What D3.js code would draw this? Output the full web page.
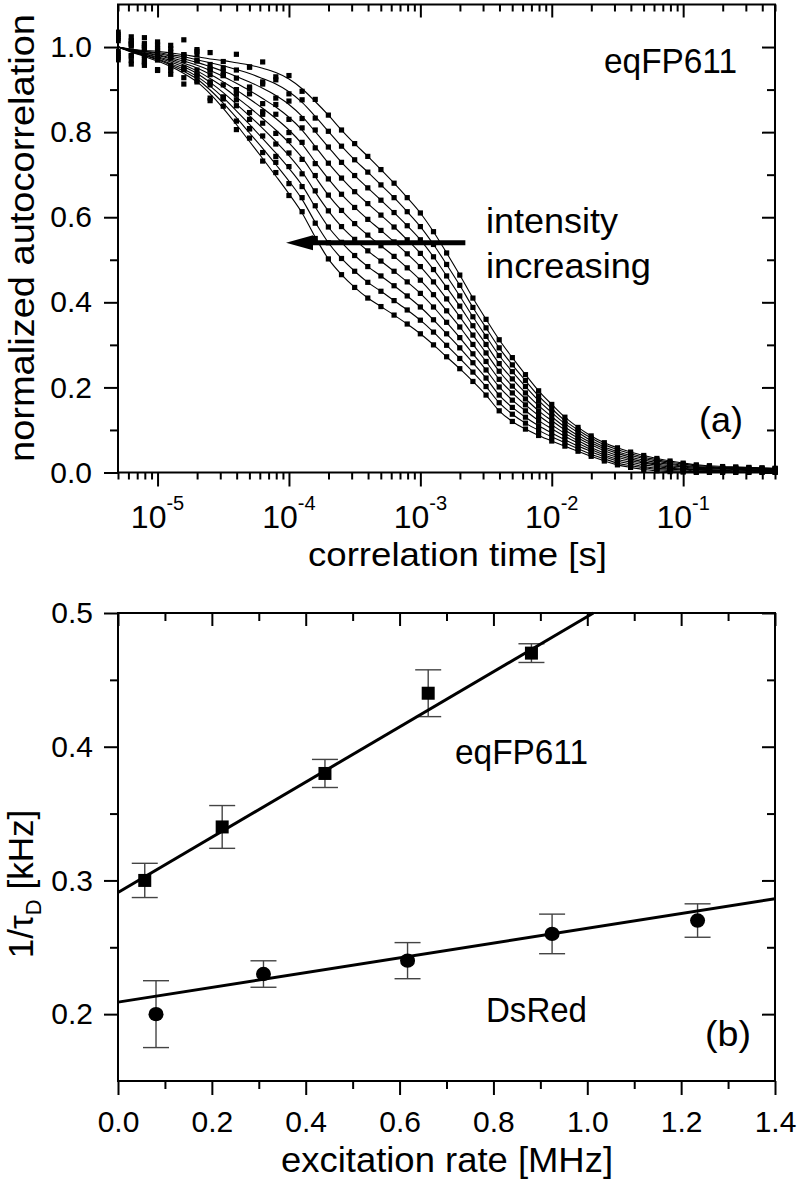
<!DOCTYPE html>
<html><head><meta charset="utf-8">
<script src="https://cdn.jsdelivr.net/npm/d3@7"></script>
<style>
body{margin:0;background:#fff}
svg{display:block}
text{font-family:"Liberation Sans",Arial,Helvetica,sans-serif;fill:#000}
</style>
</head><body>
<svg id="chart" width="800" height="1188"></svg>
<script>
// ---------- Panel (a): normalized autocorrelation vs lag time ----------
// log10 of correlation (lag) time in seconds
const lagLog10 = [-5.3,-5.2,-5.1,-5.0,-4.9,-4.8,-4.7,-4.6,-4.5,-4.4,-4.3,-4.2,-4.1,-4.0,-3.9,-3.8,-3.7,-3.6,-3.5,-3.4,
  -3.3,-3.2,-3.1,-3.0,-2.9,-2.8,-2.7,-2.6,-2.5,-2.4,-2.3,-2.2,-2.1,-2.0,-1.9,-1.8,-1.7,-1.6,-1.5,-1.4,
  -1.3,-1.2,-1.1,-1.0,-0.9,-0.8,-0.7,-0.6,-0.5,-0.4,-0.3];
// fitted G(tau), in units of 1e-3, lowest intensity first
const curve1  = [1000,995,992,990,986,982,977,972,968,963,958,950,940,925,902,872,840,805,773,743,712,680,646,610,566,516,464,410,360,312,270,230,192,160,130,106,86,70,58,48,40,33,27,22,18,16,14,13,12,11,10];
const curve2  = [1000,994,990,987,982,977,970,963,956,947,938,926,913,895,870,837,802,767,735,706,676,646,613,578,536,489,440,388,340,293,253,216,180,150,122,100,81,65,54,44,36,30,24,20,16,14,12,12,11,10,9];
const curve3  = [1000,993,989,985,979,972,964,954,943,931,918,903,886,865,837,801,765,729,698,669,640,611,580,547,507,462,415,366,320,275,237,202,169,141,115,94,75,60,49,40,33,27,21,17,14,12,11,10,9,9,8];
const curve4  = [1000,993,987,982,975,967,957,945,931,915,898,879,859,835,805,766,727,692,660,632,605,577,547,515,477,435,391,345,301,256,220,187,157,131,107,87,70,56,45,36,29,23,19,15,12,11,9,9,8,7,7];
const curve5  = [1000,992,986,980,972,962,951,936,918,899,878,856,832,805,772,730,690,654,623,595,569,542,514,484,448,408,366,323,281,238,203,173,145,122,100,81,65,51,40,32,25,20,16,13,10,9,8,7,7,6,6];
const curve6  = [1000,991,984,977,968,958,944,926,906,882,858,832,805,775,740,695,652,616,585,558,533,508,481,452,418,380,342,301,261,219,187,159,134,112,92,75,59,46,36,28,22,17,13,10,8,7,6,6,5,5,4];
const curve7  = [1000,990,983,975,965,953,938,917,893,866,838,809,778,745,707,659,615,578,548,521,497,473,448,421,389,353,317,279,241,201,170,145,122,103,85,69,54,41,31,24,18,14,10,8,6,5,5,4,4,4,3];
const curve8  = [1000,990,981,972,961,948,931,908,881,850,818,785,751,715,675,624,577,541,510,484,462,439,415,389,359,326,293,258,222,182,153,130,110,93,77,62,49,37,27,20,14,10,8,6,4,4,3,3,3,2,2];
const curve9  = [1000,989,980,970,958,943,925,899,868,834,798,762,724,685,642,588,540,503,473,447,426,404,382,358,330,299,268,236,202,164,137,116,99,84,70,56,43,32,22,16,11,7,5,3,2,2,2,1,1,1,1];
const curve10 = [1000,988,978,967,954,938,918,890,856,818,778,738,697,655,610,553,502,465,435,410,390,370,349,326,300,272,244,214,182,145,120,102,87,74,62,50,38,27,18,12,7,4,2,1,0,0,0,0,0,0,0];
// scatter of measured points about the fit at short lag times (1e-3 units)
const scatter1  = [25,-15,30,-20,10,35,-10,15,-25,20,-5,15,-10,8,-6,5];
const scatter2  = [-20,30,-10,25,-30,5,20,-15,10,-20,15,-8,10,-5,6,-4];
const scatter3  = [35,-25,10,-15,25,-20,30,5,-10,15,-15,10,-6,8,-5,4];
const scatter4  = [-10,20,-30,15,5,-20,25,-10,20,-15,8,-12,6,-5,5,-3];
const scatter5  = [30,10,-20,25,-15,20,-5,-20,15,-10,12,-8,10,-6,4,-4];
const scatter6  = [-25,15,20,-30,10,-10,25,-15,5,15,-12,10,-8,5,-4,3];
const scatter7  = [15,-30,25,5,-20,15,-20,30,-15,10,-8,12,-6,6,-5,3];
const scatter8  = [-15,25,-5,20,-25,30,-10,10,-20,12,-10,6,-8,4,-3,3];
const scatter9  = [20,-10,15,-25,30,-15,10,-25,15,-8,10,-10,5,-6,4,-2];
const scatter10 = [-30,20,-15,10,20,-25,15,-10,25,-12,8,-6,8,-4,3,-3];
const yTicksA = [0,0.1,0.2,0.3,0.4,0.5,0.6,0.7,0.8,0.9,1.0];
const arrowFrom = [2.2e-3, 0.54];
const arrowTo = [9.5e-5, 0.54];

// ---------- Panel (b): 1/tau_D vs excitation rate ----------
const eqRate = [0.057,0.222,0.441,0.661,0.881];
const eqInvTau = [0.300,0.340,0.380,0.440,0.470];
const eqErr = [0.0128,0.016,0.0105,0.0175,0.007];
const dsRate = [0.081,0.310,0.617,0.925,1.235];
const dsInvTau = [0.200,0.230,0.240,0.260,0.270];
const dsErr = [0.025,0.0099,0.0135,0.0148,0.0125];
const eqFitRate = [0, 1.013], eqFitVal = [0.291, 0.5];
const dsFitRate = [0, 1.4], dsFitVal = [0.209, 0.2863];
const xTicksB = [0,0.1,0.2,0.3,0.4,0.5,0.6,0.7,0.8,0.9,1.0,1.1,1.2,1.3,1.4];
const yTicksB = [0.2,0.25,0.3,0.35,0.4,0.45,0.5];

const svg = d3.select("#chart");
svg.append("rect").attr("width",800).attr("height",1188).attr("fill","#fff");
const defs = svg.append("defs");

function styleAxis(g){
  g.select(".domain").remove();
  g.attr("font-family",null).attr("font-size",null);
  g.selectAll(".tick line").attr("stroke","#000").attr("stroke-width",2);
  g.selectAll(".tick text").attr("font-size",30).attr("fill","#000");
}
function label(g, str, x, y, len, size, rot){
  const t = g.append("text").attr("font-size",size||35)
    .attr("transform",`translate(${x},${y})` + (rot?` rotate(${rot})`:""));
  if (rot) t.attr("text-anchor","middle");
  t.text(str);
  if (len) t.attr("textLength",len).attr("lengthAdjust","spacingAndGlyphs");
  return t;
}

// ===== Panel (a) =====
const xA = d3.scaleLog().domain([5e-6,0.5]).range([118,775]);
const yA = d3.scaleLinear().domain([0,1.1]).range([472.5,4.5]);
const gA = svg.append("g");
defs.append("clipPath").attr("id","clipA").append("rect")
  .attr("x",116).attr("y",2).attr("width",662).attr("height",473);

const curves = [curve1,curve2,curve3,curve4,curve5,curve6,curve7,curve8,curve9,curve10];
const scatters = [scatter1,scatter2,scatter3,scatter4,scatter5,scatter6,scatter7,scatter8,scatter9,scatter10];
const plotA = gA.append("g").attr("clip-path","url(#clipA)");
const fitLine = d3.line().x(d=>xA(d.t)).y(d=>yA(d.fit)).curve(d3.curveMonotoneX);
curves.forEach((c,k)=>{
  const pts = c.map((v,i)=>({t: Math.pow(10, lagLog10[i]), fit: v/1000, g: (v + (scatters[k][i]||0))/1000}));
  plotA.append("g").selectAll("rect").data(pts).join("rect")
    .attr("x",d=>xA(d.t)-2.6).attr("y",d=>yA(d.g)-2.6)
    .attr("width",5.2).attr("height",5.2).attr("fill","#000");
  plotA.append("path").datum(pts).attr("d",fitLine)
    .attr("fill","none").attr("stroke","#000").attr("stroke-width",1.1);
});

const logTicks = xA.ticks();
const isDecade = t => Math.abs(Math.log10(t) - Math.round(Math.log10(t))) < 1e-6;
gA.append("g").attr("transform","translate(0,472.5)")
  .call(d3.axisBottom(xA).tickValues(logTicks).tickSize(14).tickFormat(""))
  .call(styleAxis).call(g=>g.selectAll(".tick line").attr("y2",d=>isDecade(d)?14:7));
gA.append("g").attr("transform","translate(0,4.5)")
  .call(d3.axisTop(xA).tickValues(logTicks).tickSize(-13).tickFormat(""))
  .call(styleAxis).call(g=>g.selectAll(".tick line").attr("y2",d=>isDecade(d)?13:7));
const majA = v => Math.round(v*10)%2===0;
gA.append("g").attr("transform","translate(118,0)")
  .call(d3.axisLeft(yA).tickValues(yTicksA).tickSize(14).tickPadding(12).tickFormat(v=>majA(v)?d3.format(".1f")(v):""))
  .call(styleAxis).call(g=>g.selectAll(".tick line").attr("x2",d=>majA(d)?-14:-8));
gA.append("g").attr("transform","translate(775,0)")
  .call(d3.axisRight(yA).tickValues(yTicksA).tickSize(-13).tickFormat(""))
  .call(styleAxis).call(g=>g.selectAll(".tick line").attr("x2",d=>majA(d)?-13:-8));
gA.append("rect").attr("x",118).attr("y",4.5).attr("width",657).attr("height",468)
  .attr("fill","none").attr("stroke","#000").attr("stroke-width",2);

logTicks.filter(isDecade).forEach(t=>{
  const e = Math.round(Math.log10(t));
  const tx = gA.append("text").attr("x",xA(t)).attr("y",528).attr("text-anchor","middle").attr("font-size",32);
  tx.append("tspan").text("10");
  tx.append("tspan").attr("dy",-18).attr("font-size",20).text("-" + (-e));
});

// arrow
const ay = yA(arrowFrom[1]);
gA.append("line").attr("x1",xA(arrowFrom[0])).attr("y1",ay).attr("x2",xA(arrowTo[0])+20).attr("y2",ay)
  .attr("stroke","#000").attr("stroke-width",5);
const tipX = xA(arrowTo[0]);
gA.append("path").attr("d",`M${tipX},${ay} L${tipX+27},${ay-7.5} L${tipX+27},${ay+7.5} Z`).attr("fill","#000");

label(gA,"eqFP611",604,73,133);
label(gA,"intensity",486,233,132);
label(gA,"increasing",486,278,165);
label(gA,"(a)",699,432,44);
label(gA,"correlation time [s]",308,566,299,33);
label(gA,"normalized autocorrelation",34,238,448,35,-90);

// ===== Panel (b) =====
const xB = d3.scaleLinear().domain([0,1.4]).range([118,775]);
const yB = d3.scaleLinear().domain([0.15,0.5]).range([1081,613]);
const gB = svg.append("g");
const majBx = v => Math.round(v*10)%2===0;
const majBy = v => Math.round(v*100)%10===0;
gB.append("g").attr("transform","translate(0,1081)")
  .call(d3.axisBottom(xB).tickValues(xTicksB).tickSize(14).tickPadding(16).tickFormat(v=>majBx(v)?d3.format(".1f")(v):""))
  .call(styleAxis).call(g=>g.selectAll(".tick line").attr("y2",d=>majBx(d)?14:8));
gB.append("g").attr("transform","translate(0,613)")
  .call(d3.axisTop(xB).tickValues(xTicksB).tickSize(-13).tickFormat(""))
  .call(styleAxis).call(g=>g.selectAll(".tick line").attr("y2",d=>majBx(d)?13:8));
gB.append("g").attr("transform","translate(118,0)")
  .call(d3.axisLeft(yB).tickValues(yTicksB).tickSize(14).tickPadding(11).tickFormat(v=>majBy(v)?d3.format(".1f")(v):""))
  .call(styleAxis).call(g=>g.selectAll(".tick line").attr("x2",d=>majBy(d)?-14:-8));
gB.append("g").attr("transform","translate(775,0)")
  .call(d3.axisRight(yB).tickValues(yTicksB).tickSize(-13).tickFormat(""))
  .call(styleAxis).call(g=>g.selectAll(".tick line").attr("x2",d=>majBy(d)?-13:-8));

function errorBars(xs, ys, es){
  const g = gB.append("g").attr("stroke","#444").attr("stroke-width",1.4).attr("fill","none");
  xs.forEach((x,i)=>{
    const cx = xB(x), y0 = yB(ys[i]-es[i]), y1 = yB(ys[i]+es[i]);
    g.append("line").attr("x1",cx).attr("x2",cx).attr("y1",y0).attr("y2",y1);
    g.append("line").attr("x1",cx-13).attr("x2",cx+13).attr("y1",y0).attr("y2",y0);
    g.append("line").attr("x1",cx-13).attr("x2",cx+13).attr("y1",y1).attr("y2",y1);
  });
}
errorBars(eqRate,eqInvTau,eqErr);
errorBars(dsRate,dsInvTau,dsErr);
const lineB = d3.line().x(d=>xB(d[0])).y(d=>yB(d[1]));
gB.append("path").attr("d",lineB(d3.zip(eqFitRate,eqFitVal))).attr("stroke","#000").attr("stroke-width",3).attr("fill","none");
gB.append("path").attr("d",lineB(d3.zip(dsFitRate,dsFitVal))).attr("stroke","#000").attr("stroke-width",3).attr("fill","none");
gB.append("g").selectAll("rect").data(d3.zip(eqRate,eqInvTau)).join("rect")
  .attr("x",d=>xB(d[0])-6.5).attr("y",d=>yB(d[1])-6.5).attr("width",13).attr("height",13).attr("fill","#000");
gB.append("g").selectAll("ellipse").data(d3.zip(dsRate,dsInvTau)).join("ellipse")
  .attr("cx",d=>xB(d[0])).attr("cy",d=>yB(d[1])).attr("rx",7.5).attr("ry",7.2).attr("fill","#000");
gB.append("rect").attr("x",118).attr("y",613).attr("width",657).attr("height",468)
  .attr("fill","none").attr("stroke","#000").attr("stroke-width",2);

label(gB,"eqFP611",455,764,133);
label(gB,"DsRed",486,1022,101);
label(gB,"(b)",705,1046,46);
label(gB,"excitation rate [MHz]",281,1172,332);
// y title with subscript
const yt = gB.append("text").attr("font-size",35).attr("text-anchor","middle")
  .attr("transform","translate(33,884) rotate(-90)");
yt.append("tspan").text("1/\u03C4");
yt.append("tspan").attr("font-size",22).attr("dy",8).text("D");
yt.append("tspan").attr("dy",-8).text(" [kHz]");
</script>
</body></html>
